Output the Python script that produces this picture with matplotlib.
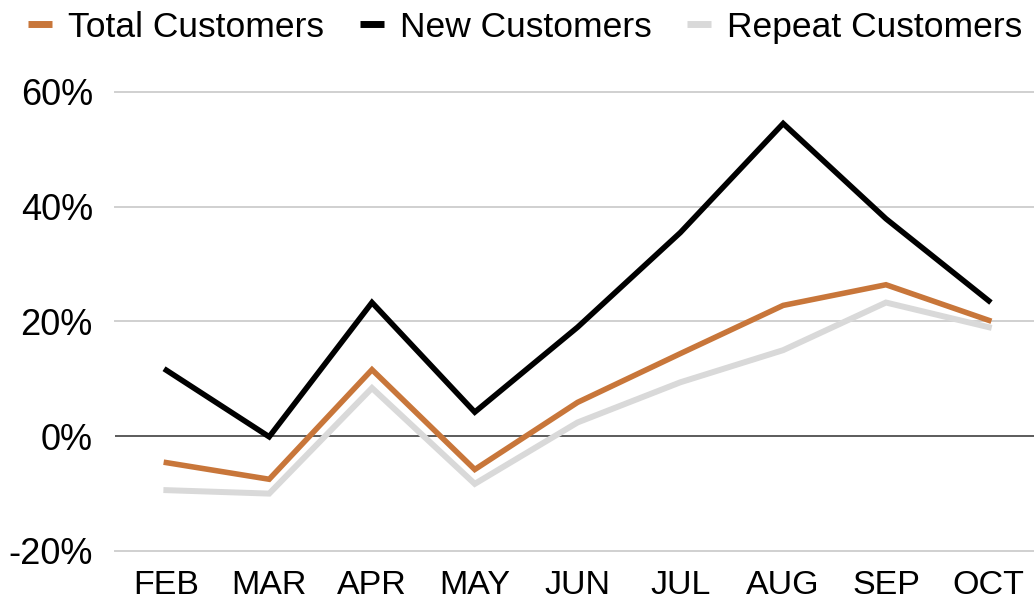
import matplotlib.pyplot as plt

months = ["FEB", "MAR", "APR", "MAY", "JUN", "JUL", "AUG", "SEP", "OCT"]
total_customers = [-4.6, -7.5, 11.6, -5.8, 5.9, 14.4, 22.8, 26.4, 20.2]
new_customers = [11.5, -0.1, 23.3, 4.2, 19.0, 35.5, 54.5, 37.9, 23.6]
repeat_customers = [-9.4, -10.0, 8.4, -8.3, 2.4, 9.4, 15.0, 23.3, 19.0]
y_ticks = [-20, 0, 20, 40, 60]

plt.rcParams["font.family"] = ["Liberation Sans", "DejaVu Sans"]

fig = plt.figure(figsize=(10.34, 6.05), dpi=100)
ax = fig.add_axes([0.1112, 0.0893, 0.8888, 0.7587])

x = range(len(months))
ax.plot(x, repeat_customers, color="#d9d9d9", lw=4.3, label="Repeat Customers", zorder=3,
        solid_joinstyle="miter")
ax.plot(x, total_customers, color="#c8763a", lw=4.0, label="Total Customers", zorder=4,
        solid_joinstyle="miter")
ax.plot(x, new_customers, color="black", lw=4.0, label="New Customers", zorder=5,
        solid_joinstyle="miter")

ax.set_xlim(-0.5, 8.44)
ax.set_ylim(-20, 60)
ax.set_yticks(y_ticks)
ax.set_yticklabels([f"{v}%" for v in y_ticks])
ax.set_xticks(list(x))
ax.set_xticklabels(months)
ax.tick_params(axis="both", length=0, colors="black")
ax.tick_params(axis="x", pad=14, labelsize=24.5)
ax.tick_params(axis="y", pad=16, labelsize=26)

for v in y_ticks:
    if v == 0:
        ax.axhline(v, color="#404040", lw=1.2, zorder=2)
    else:
        ax.axhline(v, color="#d0d0d0", lw=1.4, zorder=1, clip_on=False)

for s in ax.spines.values():
    s.set_visible(False)

handles, labels = ax.get_legend_handles_labels()
order = [1, 2, 0]
leg = fig.legend([handles[i] for i in order], [labels[i] for i in order],
                 loc="upper center", bbox_to_anchor=(0.508, 1.035), ncol=3, frameon=False,
                 fontsize=25.5, handlelength=0.68, handletextpad=0.45, columnspacing=1.0)
for h in leg.get_lines():
    h.set_solid_capstyle("butt")
    h.set_linewidth(5)

fig.savefig("out.png", dpi=100)
